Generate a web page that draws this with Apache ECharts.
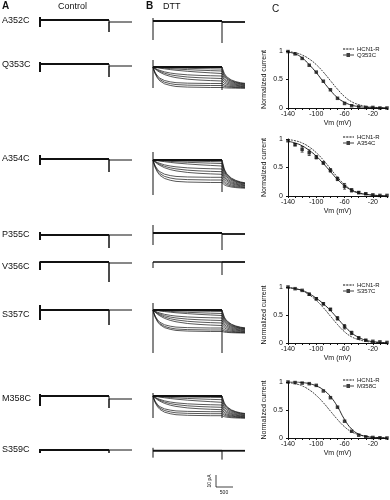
<!DOCTYPE html>
<html><head><meta charset="utf-8">
<script src="https://cdn.jsdelivr.net/npm/echarts@6/dist/echarts.min.js"></script>
<style>html,body{margin:0;padding:0;background:#fff}#c{width:390px;height:500px}</style>
</head><body><div id="c"></div>
<script>
// ================= DATA =================
const rowNames = ['A352C','Q353C','A354C','P355C','V356C','S357C','M358C','S359C'];
// time (ms): step 0-3000, tail 3000-4000
const stepEnd = 3000;
const traceEnd = 4000;
// Control traces (nA): capacitive spikes and tail level
const ctrlStartUp   = [0.3, 0.2, 0.4, 0.3, 0.0, 0.5, 0.2, 0.1];
const ctrlStartDown = [-0.7,-0.8,-0.6,-0.5,-0.8,-1.0,-1.0,-0.3];
const ctrlEndDown   = [-1.2,-1.3,-1.3,-1.3,-2.0,-1.5,-1.2,-0.3];
const ctrlTail      = [-0.2,-0.2,-0.1, 0.0,-0.1, 0.0,-0.3, 0.0];
// DTT traces: capacitive transients
const dttStartUp    = [0.3, 0.7, 0.8, 0.8, 0.0, 0.7, 0.3, 0.3];
const dttStartDown  = [-1.9,-2.1,-3.5,-1.2,-0.6,-4.3,-2.2,-0.7];
const dttEndDown    = [-2.2,-2.3,-3.2,-1.7,-1.3,-4.3,-2.2,-0.9];
const dttFlatTail   = [-0.1, 0, 0, -0.1, 0.0, 0, 0, 0.0];
// DTT families: steady-state level of each sweep at end of step (nA)
const dttQ353C = [0,-0.2,-0.4,-0.65,-0.9,-1.15,-1.4,-1.65,-1.85,-2.05];
const dttA354C = [0,-0.17,-0.35,-0.6,-0.9,-1.17,-1.43,-1.73,-2.0,-2.25];
const dttS357C = [0,-0.15,-0.35,-0.55,-0.8,-1.05,-1.3,-1.55,-1.8,-2.0,-2.15];
const dttM358C = [0,-0.15,-0.37,-0.63,-0.9,-1.13,-1.37,-1.57,-1.77,-1.97];
const familyTailLevel = {1:-2.15, 2:-3.0, 5:-2.35, 6:-2.3};
const familyLevels = {1:dttQ353C, 2:dttA354C, 5:dttS357C, 6:dttM358C};
// activation time courses (fraction of final level)
const tStep     = [0,50,100,200,300,500,750,1000,1500,2000,2500,3000];
const shapeFast = [0,0.2,0.35,0.55,0.68,0.82,0.9,0.95,0.98,0.99,1,1];
const shapeMed  = [0,0.08,0.15,0.28,0.38,0.54,0.67,0.76,0.87,0.93,0.97,1];
const shapeSlow = [0,0.03,0.06,0.12,0.18,0.28,0.40,0.50,0.66,0.79,0.90,1];
const tTail     = [3000,3100,3200,3400,3600,3800,4000];
const tailShape = [0,0.30,0.45,0.60,0.68,0.73,0.76];

// Panel C: normalized current vs Vm
const vm = [-140,-130,-120,-110,-100,-90,-80,-70,-60,-50,-40,-30,-20,-10,0];
const hcn1R = [0.99,0.97,0.93,0.86,0.76,0.63,0.48,0.33,0.20,0.11,0.06,0.03,0.015,0.007,0.003];
const q353cPts = [0.99,0.95,0.87,0.75,0.63,0.47,0.32,0.17,0.08,0.04,0.02,0.01,0.01,0.0,0.0];
const q353cFit = [0.98,0.95,0.88,0.76,0.62,0.46,0.31,0.18,0.10,0.05,0.025,0.012,0.006,0.003,0.001];
const a354cPts = [0.97,0.90,0.82,0.76,0.68,0.58,0.45,0.30,0.17,0.10,0.06,0.04,0.02,0.01,0.01];
const a354cFit = [0.96,0.93,0.88,0.80,0.70,0.57,0.43,0.29,0.18,0.10,0.05,0.03,0.015,0.007,0.003];
const a354cErr = [0,0.02,0.05,0.05,0.03,0.02,0.03,0.03,0.05,0.03,0.02,0.01,0,0,0];
const s357cPts = [1.0,0.97,0.94,0.87,0.79,0.70,0.60,0.44,0.29,0.18,0.09,0.05,0.03,0.02,0.01];
const s357cFit = [0.99,0.97,0.94,0.88,0.80,0.70,0.58,0.44,0.30,0.18,0.10,0.05,0.025,0.012,0.005];
const s357cErr = [0,0,0,0.02,0.02,0.02,0.02,0.03,0.04,0.03,0.02,0.01,0,0,0];
const m358cPts = [1.0,0.99,0.98,0.97,0.94,0.84,0.72,0.55,0.30,0.12,0.05,0.02,0.01,0.005,0.0];
const m358cFit = [1.0,1.0,0.99,0.97,0.93,0.86,0.74,0.56,0.33,0.16,0.07,0.03,0.01,0.005,0.002];
const xTickLabels = [-140,-100,-60,-20];
const yTickLabels = [0,0.5,1];

// ================= LAYOUT =================
const ctrlBaseY = [20,64,159,235,262,310,396,450];
const dttBaseY  = [21,67,160,233,262,310,396,451];
const labelY    = [21,65,159,235,267,315,399,450];
const plotTop   = [51,139,287,382];
const plotH     = [57,57,56,56];
const plotSets = [
  {name:'Q353C', pts:q353cPts, fit:q353cFit, err:null},
  {name:'A354C', pts:a354cPts, fit:a354cFit, err:a354cErr},
  {name:'S357C', pts:s357cPts, fit:s357cFit, err:s357cErr},
  {name:'M358C', pts:m358cPts, fit:m358cFit, err:null}
];
const INK = '#111';

const grids=[], xAxes=[], yAxes=[], series=[], legends=[], graphics=[];
function addTraceGrid(left, baseY){
  grids.push({left:left, top:baseY-15, width:92, height:65});
  xAxes.push({type:'value', min:0, max:traceEnd, show:false, gridIndex:grids.length-1});
  yAxes.push({type:'value', min:-5, max:1.5, show:false, gridIndex:grids.length-1});
  return grids.length-1;
}
function line(idx, data, w, color){
  series.push({type:'line', xAxisIndex:idx, yAxisIndex:idx, data:data, symbol:'none',
    silent:true, animation:false, lineStyle:{width:w, color:color||INK}});
}

rowNames.forEach((nm,i)=>{
  // Control column
  const a = addTraceGrid(40, ctrlBaseY[i]);
  line(a, [[0,ctrlStartUp[i]],[0,ctrlStartDown[i]],[0,0],[stepEnd,0]], 2);
  line(a, [[stepEnd,0],[stepEnd,ctrlEndDown[i]],[stepEnd,ctrlTail[i]],[traceEnd,ctrlTail[i]]], 1);
  // DTT column
  const b = addTraceGrid(153, dttBaseY[i]);
  line(b, [[0,dttStartUp[i]],[0,dttStartDown[i]]], 1);
  line(b, [[stepEnd,0],[stepEnd,dttEndDown[i]]], 1);
  const lv = familyLevels[i];
  if (lv){
    const Lmax = Math.min.apply(null, lv);
    const Lt = familyTailLevel[i];
    lv.forEach((L,k)=>{
      const r = Math.abs(L/Lmax);
      const sh = r>0.75 ? shapeFast : (r>0.35 ? shapeMed : shapeSlow);
      line(b, tStep.map((t,j)=>[t, L*sh[j]]), k===0?1.8:0.7);
      line(b, tTail.map((t,j)=>[t, L+(Lt-L)*tailShape[j]]), 0.7);
    });
  } else {
    line(b, [[0,0],[stepEnd,0]], (i===4)?1.5:2.2);
    line(b, [[stepEnd,dttFlatTail[i]],[traceEnd,dttFlatTail[i]]], 1.8);
  }
  graphics.push({type:'text', left:2, top:labelY[i]-5, style:{text:nm, font:'9px "Liberation Sans", Arial', fill:INK}});
});

const dashIcon = 'path://M0,4.6h2.2v0.8h-2.2z M3.2,4.6h2.2v0.8h-2.2z M6.4,4.6h2.2v0.8h-2.2z M9.6,4.6h1.4v0.8h-1.4z';
const sqIcon = 'path://M0,4.6h3.5v-1.6h3.5v1.6h4v0.8h-4v1.6h-3.5v-1.6h-3.5z';
plotSets.forEach((p,k)=>{
  grids.push({left:288, top:plotTop[k], width:101, height:plotH[k]});
  const g = grids.length-1;
  xAxes.push({type:'value', gridIndex:g, min:-140, max:0, interval:10,
    axisLine:{onZero:false, lineStyle:{color:INK, width:1}},
    axisTick:{length:2, lineStyle:{color:INK}},
    splitLine:{show:false},
    axisLabel:{fontSize:7, color:INK, margin:3, fontFamily:'Liberation Sans',
      formatter:v=> xTickLabels.indexOf(v)>=0 ? String(v) : ''},
    name:'Vm (mV)', nameLocation:'middle', nameGap:12,
    nameTextStyle:{fontSize:7, color:INK, fontFamily:'Liberation Sans'}});
  yAxes.push({type:'value', gridIndex:g, min:0, max:1, interval:0.5,
    axisLine:{show:true, onZero:false, lineStyle:{color:INK, width:1}},
    axisTick:{show:true, length:2, lineStyle:{color:INK}},
    splitLine:{show:false},
    axisLabel:{fontSize:7, color:INK, margin:5, fontFamily:'Liberation Sans',
      formatter:v=> yTickLabels.indexOf(v)>=0 ? String(v) : ''},
    name:'Normalized current', nameLocation:'middle', nameGap:20, nameRotate:90,
    nameTextStyle:{fontSize:7, color:INK, fontFamily:'Liberation Sans'}});
  series.push({type:'line', name:'HCN1-R', xAxisIndex:g, yAxisIndex:g, smooth:true, symbol:'none',
    animation:false, data:vm.map((v,j)=>[v,hcn1R[j]]), color:INK,
    lineStyle:{width:0.8, type:[2,1], color:INK}});
  series.push({type:'line', name:p.name+' fit', xAxisIndex:g, yAxisIndex:g, smooth:true, symbol:'none',
    animation:false, data:vm.map((v,j)=>[v,p.fit[j]]), lineStyle:{width:0.9, color:INK}});
  series.push({type:'scatter', name:p.name, xAxisIndex:g, yAxisIndex:g, symbol:'rect', symbolSize:3.5,
    animation:false, data:vm.map((v,j)=>[v,p.pts[j]]), itemStyle:{color:INK}, color:INK});
  if (p.err){
    series.push({type:'custom', xAxisIndex:g, yAxisIndex:g, silent:true, animation:false,
      encode:{x:0, y:[1,2]},
      data: vm.map((v,j)=>[v, p.pts[j]-p.err[j], p.pts[j]+p.err[j], p.err[j]]).filter(d=>d[3]>0),
      renderItem:(params, api)=>{
        const lo = api.coord([api.value(0), api.value(1)]);
        const hi = api.coord([api.value(0), api.value(2)]);
        const st = {stroke:INK, lineWidth:0.7};
        return {type:'group', children:[
          {type:'line', shape:{x1:lo[0],y1:lo[1],x2:hi[0],y2:hi[1]}, style:st},
          {type:'line', shape:{x1:hi[0]-1.5,y1:hi[1],x2:hi[0]+1.5,y2:hi[1]}, style:st},
          {type:'line', shape:{x1:lo[0]-1.5,y1:lo[1],x2:lo[0]+1.5,y2:lo[1]}, style:st}]};
      }});
  }
  legends.push({left:343, top:plotTop[k]-5, orient:'vertical', itemGap:0, itemWidth:11, itemHeight:5,
    padding:0, selectedMode:false, textStyle:{fontSize:6, color:INK, padding:[0,0,0,-2], fontFamily:'Liberation Sans'},
    data:[{name:'HCN1-R', icon:dashIcon}, {name:p.name, icon:sqIcon}]});
});

// panel headings
const hfont = '"Liberation Sans", Arial';
graphics.push({type:'text', left:2, top:1, style:{text:'A', font:'bold 10px '+hfont, fill:INK}});
graphics.push({type:'text', left:58, top:2, style:{text:'Control', font:'9px '+hfont, fill:INK}});
graphics.push({type:'text', left:146, top:1, style:{text:'B', font:'bold 10px '+hfont, fill:INK}});
graphics.push({type:'text', left:163, top:2, style:{text:'DTT', font:'9px '+hfont, fill:INK}});
graphics.push({type:'text', left:272, top:4, style:{text:'C', font:'10px '+hfont, fill:INK}});
// scale bar
graphics.push({type:'line', shape:{x1:216,y1:475,x2:216,y2:487}, style:{stroke:INK, lineWidth:0.8}});
graphics.push({type:'line', shape:{x1:216,y1:487,x2:233,y2:487}, style:{stroke:INK, lineWidth:0.8}});
graphics.push({type:'text', x:210, y:481, rotation:Math.PI/2, style:{text:'10 pA', font:'5px '+hfont, fill:INK, align:'center', verticalAlign:'middle'}});
graphics.push({type:'text', x:224, y:493, style:{text:'500', font:'5px '+hfont, fill:INK, align:'center', verticalAlign:'middle'}});

const chart = echarts.init(document.getElementById('c'), null, {renderer:'canvas'});
chart.setOption({animation:false, backgroundColor:'#fff', grid:grids, xAxis:xAxes, yAxis:yAxes,
  series:series, legend:legends, graphic:graphics});
</script></body></html>
